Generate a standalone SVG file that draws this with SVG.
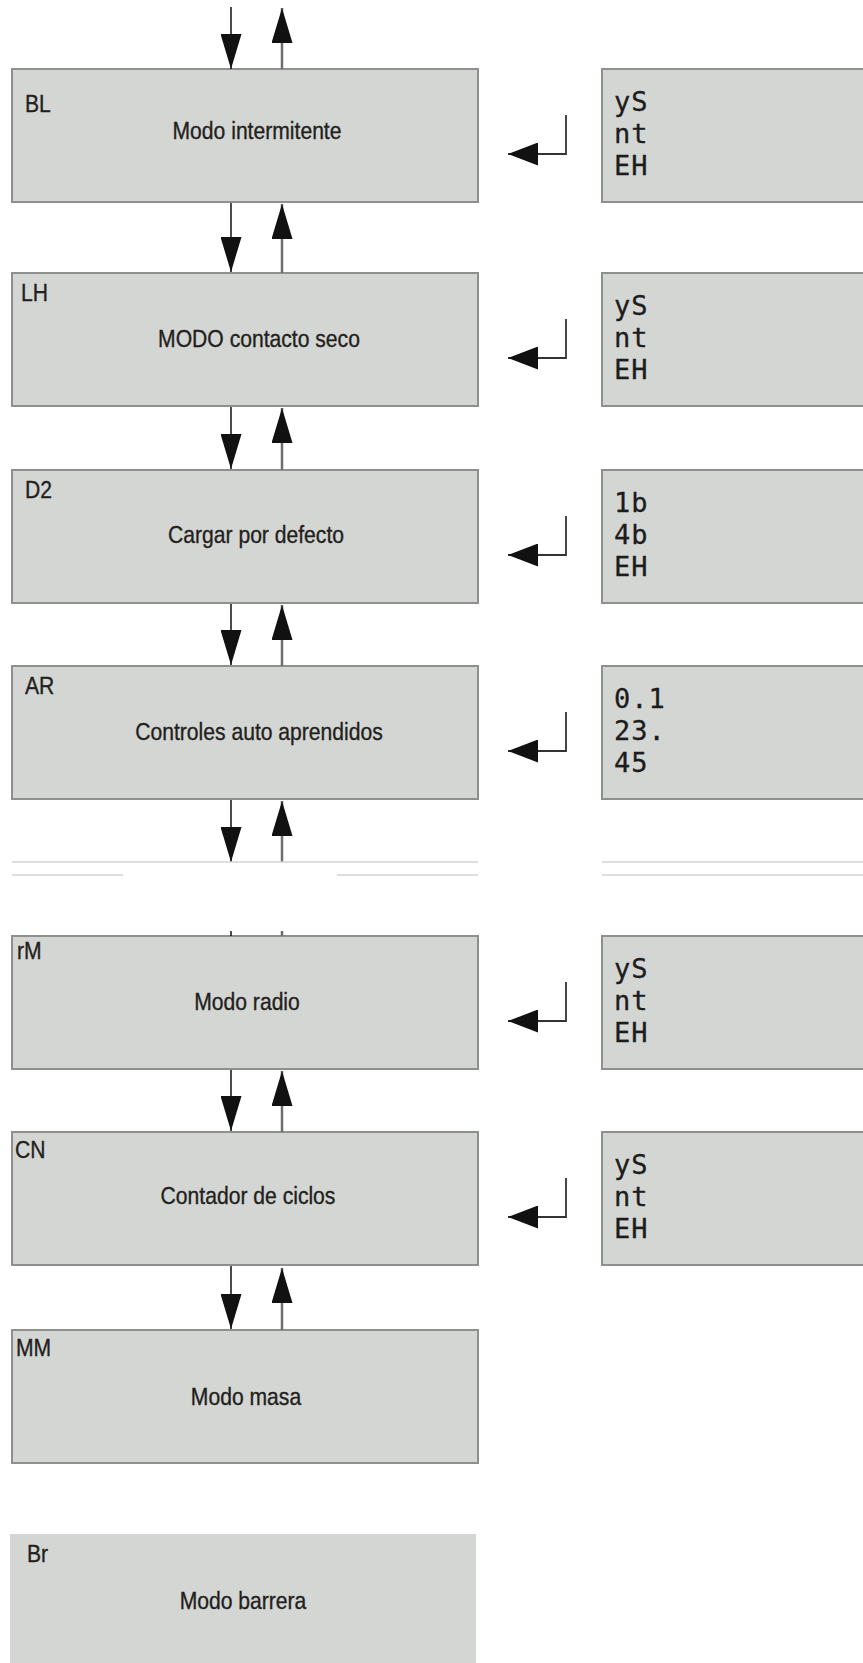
<svg xmlns="http://www.w3.org/2000/svg" width="863" height="1663" viewBox="0 0 863 1663">
<style>
.box{fill:#d4d6d3;stroke:#8e908e;stroke-width:2}
.flat{fill:#d4d6d3}
.lbl{font-family:"Liberation Sans",Arial,sans-serif;font-size:24px;fill:#231f20;stroke:#231f20;stroke-width:0.35}
.ttl{font-family:"Liberation Sans",Arial,sans-serif;font-size:24px;fill:#231f20;stroke:#231f20;stroke-width:0.35;text-anchor:middle}
.lcd{font-family:"DejaVu Sans Mono","Liberation Mono",monospace;font-size:27px;letter-spacing:1px;fill:#1c1c1c;stroke:#1c1c1c;stroke-width:0.3}
.dn{stroke:#111;stroke-width:1.5;fill:none}
.up{stroke:#6d6d6d;stroke-width:2.5;fill:none}
.ret{stroke:#333;stroke-width:1.8;fill:none}
.sep{stroke:#d3d3d3;stroke-width:1.5}
</style>
<defs>
<marker id="ah" viewBox="0 0 35 21" refX="35" refY="10.5" markerWidth="35" markerHeight="21" markerUnits="userSpaceOnUse" orient="auto"><path d="M0,0 L35,10.5 L0,21 z" fill="#111"/></marker>
<marker id="rh" viewBox="0 0 30 23" refX="30" refY="11.5" markerWidth="30" markerHeight="23" markerUnits="userSpaceOnUse" orient="auto"><path d="M0,0 L30,11.5 L0,23 z" fill="#111"/></marker>
</defs>

<g id="node-BL"><rect class="box" x="12" y="69" width="466" height="133"/><text class="lbl" transform="translate(25 112) scale(0.88 1)">BL</text><text class="ttl" transform="translate(257 139) scale(0.88 1)">Modo intermitente</text></g>
<g id="node-LH"><rect class="box" x="12" y="273" width="466" height="133"/><text class="lbl" transform="translate(21 301) scale(0.88 1)">LH</text><text class="ttl" transform="translate(259 347) scale(0.88 1)">MODO contacto seco</text></g>
<g id="node-D2"><rect class="box" x="12" y="470" width="466" height="133"/><text class="lbl" transform="translate(25 498) scale(0.88 1)">D2</text><text class="ttl" transform="translate(256 543) scale(0.88 1)">Cargar por defecto</text></g>
<g id="node-AR"><rect class="box" x="12" y="666" width="466" height="133"/><text class="lbl" transform="translate(25 694) scale(0.88 1)">AR</text><text class="ttl" transform="translate(259 740) scale(0.88 1)">Controles auto aprendidos</text></g>
<g id="node-rM"><rect class="box" x="12" y="936" width="466" height="133"/><text class="lbl" transform="translate(17 959) scale(0.88 1)">rM</text><text class="ttl" transform="translate(247 1010) scale(0.88 1)">Modo radio</text></g>
<g id="node-CN"><rect class="box" x="12" y="1132" width="466" height="133"/><text class="lbl" transform="translate(15 1158) scale(0.88 1)">CN</text><text class="ttl" transform="translate(248 1204) scale(0.88 1)">Contador de ciclos</text></g>
<g id="node-MM"><rect class="box" x="12" y="1330" width="466" height="133"/><text class="lbl" transform="translate(16 1356) scale(0.88 1)">MM</text><text class="ttl" transform="translate(246 1405) scale(0.88 1)">Modo masa</text></g>
<g id="node-Br"><rect class="flat" x="10" y="1534" width="466" height="140"/><text class="lbl" transform="translate(27 1562) scale(0.88 1)">Br</text><text class="ttl" transform="translate(243 1609) scale(0.88 1)">Modo barrera</text></g>

<g id="panel-BL"><rect class="box" x="602" y="69" width="270" height="133"/><text class="lcd" x="614" y="111">yS</text><text class="lcd" x="614" y="143">nt</text><text class="lcd" x="614" y="175">EH</text></g>
<g id="panel-LH"><rect class="box" x="602" y="273" width="270" height="133"/><text class="lcd" x="614" y="315">yS</text><text class="lcd" x="614" y="347">nt</text><text class="lcd" x="614" y="379">EH</text></g>
<g id="panel-D2"><rect class="box" x="602" y="470" width="270" height="133"/><text class="lcd" x="614" y="512">1b</text><text class="lcd" x="614" y="544">4b</text><text class="lcd" x="614" y="576">EH</text></g>
<g id="panel-AR"><rect class="box" x="602" y="666" width="270" height="133"/><text class="lcd" x="614" y="708">0.1</text><text class="lcd" x="614" y="740">23.</text><text class="lcd" x="614" y="772">45</text></g>
<g id="panel-rM"><rect class="box" x="602" y="936" width="270" height="133"/><text class="lcd" x="614" y="978">yS</text><text class="lcd" x="614" y="1010">nt</text><text class="lcd" x="614" y="1042">EH</text></g>
<g id="panel-CN"><rect class="box" x="602" y="1132" width="270" height="133"/><text class="lcd" x="614" y="1174">yS</text><text class="lcd" x="614" y="1206">nt</text><text class="lcd" x="614" y="1238">EH</text></g>

<g id="connectors">
<line class="dn" x1="231" y1="7" x2="231" y2="69" marker-end="url(#ah)"/>
<line class="up" x1="282" y1="69" x2="282" y2="8" marker-end="url(#ah)"/>
<line class="dn" x1="231" y1="203" x2="231" y2="272" marker-end="url(#ah)"/>
<line class="up" x1="282" y1="273" x2="282" y2="204" marker-end="url(#ah)"/>
<line class="dn" x1="231" y1="407" x2="231" y2="469" marker-end="url(#ah)"/>
<line class="up" x1="282" y1="470" x2="282" y2="408" marker-end="url(#ah)"/>
<line class="dn" x1="231" y1="604" x2="231" y2="665" marker-end="url(#ah)"/>
<line class="up" x1="282" y1="666" x2="282" y2="605" marker-end="url(#ah)"/>
<line class="dn" x1="231" y1="800" x2="231" y2="862" marker-end="url(#ah)"/>
<line class="up" x1="282" y1="862" x2="282" y2="801" marker-end="url(#ah)"/>
<line class="dn" x1="231" y1="931" x2="231" y2="936"/>
<line class="up" x1="282" y1="931" x2="282" y2="936"/>
<line class="dn" x1="231" y1="1070" x2="231" y2="1131" marker-end="url(#ah)"/>
<line class="up" x1="282" y1="1132" x2="282" y2="1071" marker-end="url(#ah)"/>
<line class="dn" x1="231" y1="1266" x2="231" y2="1329" marker-end="url(#ah)"/>
<line class="up" x1="282" y1="1330" x2="282" y2="1268" marker-end="url(#ah)"/>
<path class="ret" d="M566,115 V154 H508" marker-end="url(#rh)"/>
<path class="ret" d="M566,319 V358 H508" marker-end="url(#rh)"/>
<path class="ret" d="M566,516 V555 H508" marker-end="url(#rh)"/>
<path class="ret" d="M566,712 V751 H508" marker-end="url(#rh)"/>
<path class="ret" d="M566,982 V1021 H508" marker-end="url(#rh)"/>
<path class="ret" d="M566,1178 V1217 H508" marker-end="url(#rh)"/>
<line class="sep" x1="12" y1="862" x2="478" y2="862"/>
<line class="sep" x1="602" y1="862" x2="863" y2="862"/>
<line class="sep" x1="12" y1="875" x2="123" y2="875"/>
<line class="sep" x1="337" y1="875" x2="478" y2="875"/>
<line class="sep" x1="602" y1="875" x2="863" y2="875"/>
</g>
</svg>
